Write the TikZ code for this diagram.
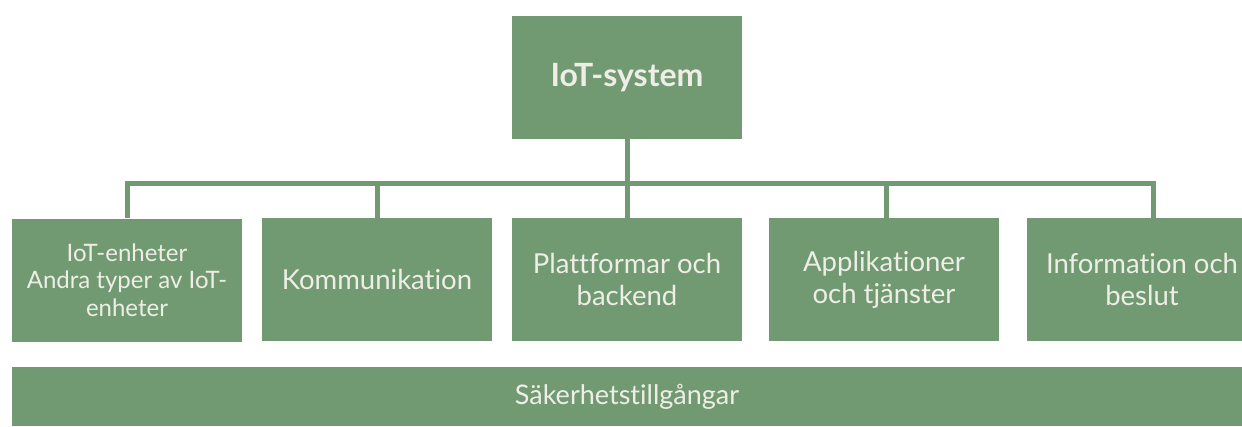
\documentclass[tikz,border=0pt]{standalone}
\usepackage{fontspec}
\setmainfont{Lato}[Ligatures=NoCommon]
\definecolor{leaf}{HTML}{719A72}
\definecolor{paper}{HTML}{EFEEE6}
\begin{document}
\begin{tikzpicture}[x=1pt,y=-1pt,
  box/.style={fill=leaf, draw=none, text=paper, minimum width=230pt,
    minimum height=123pt, inner sep=0pt, align=center, anchor=center,
    font=\fontsize{27.5}{32}\selectfont},
  conn/.style={draw=leaf, line width=5pt, line join=miter}]
\useasboundingbox (0,0) rectangle (1242,426);

% top node
\node[box, font=\fontsize{32}{34}\bfseries\selectfont] (top) at (627,77.5) {IoT-system};

% second level
\node[box, font=\fontsize{24}{27.5}\selectfont] (b1) at (127,280) {IoT-enheter\\Andra typer av IoT-\\enheter};
\node[box] (b2) at (377,279.5) {Kommunikation};
\node[box] (b3) at (627,279.5) {Plattformar och\\backend};
\node[box] (b4) at (884,279.5) {Applikationer\\och tjänster};
\node[box] (b5) at (1142,279.5) {Information och\\beslut};

% base bar
\node[box, minimum width=1230pt, minimum height=59pt, font=\fontsize{27}{32}\selectfont] (base) at (627,396.5) {Säkerhetstillgångar};

% connectors
\coordinate (bus) at (627,183.5);
\coordinate (d5) at ([xshift=11pt]b5.north);
\draw[conn] (top.south) -- (b3.north);
\draw[conn] (b1.north) |- (bus) -| (d5);
\draw[conn] (b2.north) -- (b2.north |- bus);
\draw[conn] ([xshift=2pt]b4.north) -- ([xshift=2pt]b4.north |- bus);
\end{tikzpicture}
\end{document}
